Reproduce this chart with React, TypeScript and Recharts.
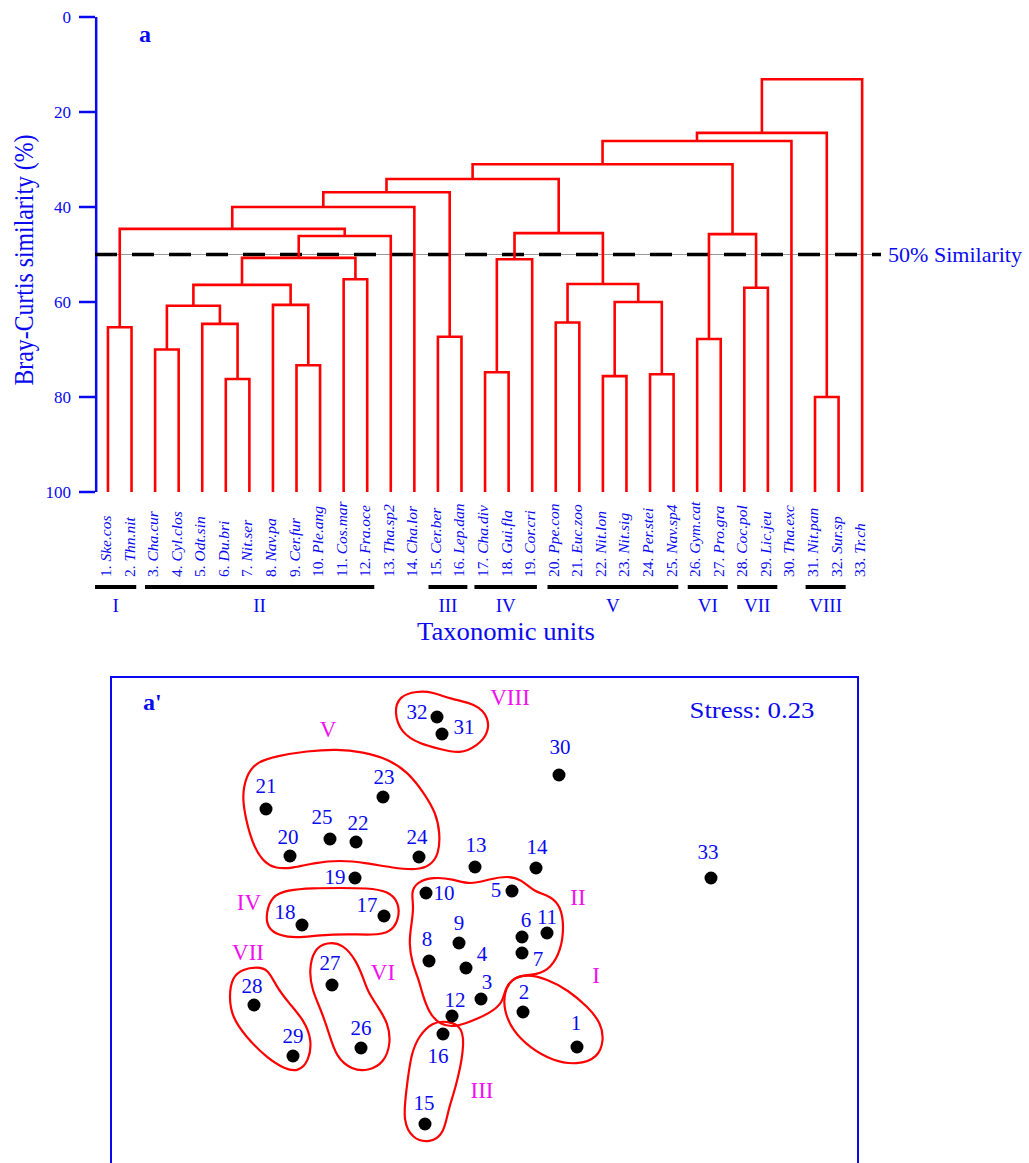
import React from 'react';
import { ScatterChart, Scatter, XAxis, YAxis, ReferenceLine } from 'recharts';

const BLUE = '#0a0af0';
const RED = '#ff0000';
const MAGENTA = '#f010f0';
const SERIF = '"Liberation Serif", "Times New Roman", Times, serif';

// ---- (a) dendrogram ----
const LEAF_NAMES = [
  'Ske.cos', 'Thn.nit', 'Cha.cur', 'Cyl.clos', 'Odt.sin', 'Du.bri', 'Nit.ser', 'Nav.pa',
  'Cer.fur', 'Ple.ang', 'Cos.mar', 'Fra.oce', 'Tha.sp2', 'Cha.lor', 'Cer.ber', 'Lep.dan',
  'Cha.div', 'Gui.fla', 'Cor.cri', 'Ppe.con', 'Euc.zoo', 'Nit.lon', 'Nit.sig', 'Per.stei',
  'Nav.sp4', 'Gym.cat', 'Pro.gra', 'Coc.pol', 'Lic.jeu', 'Tha.exc', 'Nit.pan', 'Sur.sp', 'Tr.ch',
];

// merges: [left, right, similarity %]; positive = leaf number, negative = earlier merge (-k = merge k)
const MERGES: [number, number, number][] = [
  [1, 2, 65.3],      // 1
  [3, 4, 70],        // 2
  [6, 7, 76.2],      // 3
  [5, -3, 64.6],     // 4
  [-2, -4, 60.8],    // 5
  [9, 10, 73.3],     // 6
  [8, -6, 60.6],     // 7
  [-5, -7, 56.4],    // 8
  [11, 12, 55.2],    // 9
  [-8, -9, 50.7],    // 10
  [-10, 13, 46.1],   // 11
  [-1, -11, 44.6],   // 12
  [-12, 14, 40],     // 13
  [15, 16, 67.3],    // 14
  [-13, -14, 36.9],  // 15
  [17, 18, 74.8],    // 16
  [-16, 19, 51],     // 17
  [20, 21, 64.3],    // 18
  [22, 23, 75.6],    // 19
  [24, 25, 75.2],    // 20
  [-19, -20, 60],    // 21
  [-18, -21, 56.2],  // 22
  [-17, -22, 45.5],  // 23
  [-15, -23, 34.1],  // 24
  [26, 27, 67.8],    // 25
  [28, 29, 57],      // 26
  [-25, -26, 45.7],  // 27
  [-24, -27, 31],    // 28
  [-28, 30, 26.1],   // 29
  [31, 32, 80],      // 30
  [-29, -30, 24.4],  // 31
  [-31, 33, 13.1],   // 32
];

const CUT_LEVEL = 50;
const Y_TICKS = [0, 20, 40, 60, 80, 100];

const GROUP_NAMES = ['I', 'II', 'III', 'IV', 'V', 'VI', 'VII', 'VIII'];
const GROUP_START = [0.45, 2.57, 14.6, 16.55, 19.65, 25.6, 27.7, 30.6];
const GROUP_END = [2.2, 12.3, 16.25, 19.2, 25.2, 27.3, 29.4, 32.3];

// ---- (a') NMDS ordination ----
const POINT_X = [0.93, 0.39, -0.03, -0.18, 0.28, 0.38, 0.38, -0.55, -0.25, -0.58, 0.63, -0.32, -0.09, 0.52, -0.59, -0.41,
  -1.0, -1.82, -1.29, -1.94, -2.18, -1.28, -1.01, -0.65, -1.54, -1.23, -1.52, -2.3, -1.91, 0.75, -0.42, -0.47, 2.27];
const POINT_Y = [-1.77, -1.42, -1.29, -0.98, -0.21, -0.67, -0.83, -0.91, -0.73, -0.23, -0.63, -1.46, 0.03, 0.02, -2.54, -1.64,
  -0.46, -0.55, -0.08, 0.14, 0.61, 0.28, 0.73, 0.13, 0.31, -1.78, -1.15, -1.35, -1.86, 0.95, 1.36, 1.53, -0.08];

const HULLS: { name: string; pts: [number, number][] }[] = [
  { name: 'VIII', pts: [[-0.9, 1.58], [-0.85, 1.74], [-0.67, 1.79], [-0.51, 1.78], [-0.34, 1.71], [-0.07, 1.66], [0.05, 1.52], [0.04, 1.36], [-0.07, 1.24], [-0.24, 1.16], [-0.44, 1.21], [-0.64, 1.26], [-0.83, 1.37]] },
  { name: 'V', pts: [[-2.38, 0.94], [-2.28, 1.08], [-2.07, 1.14], [-1.77, 1.19], [-1.47, 1.21], [-1.21, 1.18], [-0.96, 1.11], [-0.76, 0.98], [-0.6, 0.77], [-0.48, 0.57], [-0.44, 0.37], [-0.45, 0.16], [-0.54, 0.04], [-0.67, 0.0], [-0.91, 0.02], [-1.17, 0.07], [-1.44, 0.1], [-1.71, 0.07], [-1.91, 0.02], [-2.08, 0.01], [-2.22, 0.09], [-2.32, 0.28], [-2.38, 0.5], [-2.42, 0.73]] },
  { name: 'IV', pts: [[-2.18, -0.43], [-2.12, -0.26], [-1.97, -0.2], [-1.71, -0.18], [-1.44, -0.18], [-1.17, -0.18], [-0.96, -0.21], [-0.85, -0.32], [-0.85, -0.5], [-0.94, -0.63], [-1.11, -0.65], [-1.37, -0.64], [-1.64, -0.65], [-1.87, -0.68], [-2.04, -0.66], [-2.17, -0.58]] },
  { name: 'VII', pts: [[-2.55, -1.27], [-2.52, -1.07], [-2.41, -0.99], [-2.27, -0.97], [-2.16, -0.99], [-2.08, -1.16], [-1.96, -1.32], [-1.8, -1.5], [-1.72, -1.7], [-1.75, -1.91], [-1.86, -2.02], [-1.99, -1.99], [-2.17, -1.88], [-2.38, -1.67], [-2.52, -1.47]] },
  { name: 'VI', pts: [[-1.75, -1.0], [-1.7, -0.79], [-1.57, -0.72], [-1.41, -0.74], [-1.28, -0.9], [-1.2, -1.1], [-1.16, -1.22], [-1.06, -1.37], [-0.96, -1.53], [-0.93, -1.73], [-1.0, -1.93], [-1.16, -2.01], [-1.32, -2.0], [-1.48, -1.87], [-1.55, -1.63], [-1.63, -1.4], [-1.72, -1.2]] },
  { name: 'III', pts: [[-0.78, -2.23], [-0.73, -1.83], [-0.65, -1.66], [-0.52, -1.52], [-0.36, -1.51], [-0.21, -1.57], [-0.2, -1.8], [-0.28, -2.17], [-0.36, -2.4], [-0.4, -2.64], [-0.54, -2.73], [-0.72, -2.69], [-0.81, -2.5]] },
  { name: 'II', pts: [[-0.7, -0.37], [-0.73, -0.22], [-0.67, -0.12], [-0.51, -0.07], [-0.31, -0.09], [-0.14, -0.15], [0.06, -0.09], [0.23, -0.06], [0.37, -0.09], [0.5, -0.22], [0.67, -0.26], [0.77, -0.37], [0.8, -0.57], [0.77, -0.8], [0.67, -0.98], [0.53, -1.05], [0.33, -1.05], [0.21, -1.17], [0.19, -1.33], [0.06, -1.43], [-0.14, -1.52], [-0.29, -1.57], [-0.44, -1.55], [-0.55, -1.43], [-0.62, -1.23], [-0.65, -1.1], [-0.72, -0.93], [-0.75, -0.73], [-0.73, -0.57]] },
  { name: 'I', pts: [[0.2, -1.23], [0.27, -1.09], [0.43, -1.04], [0.63, -1.09], [0.84, -1.2], [1.04, -1.37], [1.17, -1.53], [1.2, -1.7], [1.14, -1.88], [0.93, -1.95], [0.69, -1.91], [0.46, -1.78], [0.28, -1.6], [0.2, -1.4]] },
];

const GROUP_LABEL_X = [1.12, 0.94, -0.02, -2.35, -1.56, -1.01, -2.36, 0.26];
const GROUP_LABEL_Y = [-1.05, -0.27, -2.2, -0.32, 1.41, -1.02, -0.82, 1.73];

// label offsets (px) of point numbers relative to their dot
const LABEL_OFFSET: [number, number][] = [
  [-1, -24], [1, -20], [6, -17], [16, -14], [-16, -1], [4, -17], [16, 6], [-2, -22], [0, -20], [18, 0],
  [0, -16], [3, -16], [1, -22], [1, -21], [-1, -21], [-5, 22], [-17, -11], [-17, -13], [-20, -1], [-2, -19],
  [0, -23], [2, -19], [1, -20], [-2, -20], [-8, -22], [0, -20], [-2, -22], [-2, -19], [0, -20], [1, -28],
  [22, -7], [-20, -5], [-3, -26],
];

// build dendrogram link paths
type Node = { x: number; h: number };
const built: Node[] = [];
const getNode = (ref: number): Node => (ref > 0 ? { x: ref, h: 100 } : built[-ref - 1]);
const LINKS = MERGES.map(([a, b, h]) => {
  const l = getNode(a);
  const r = getNode(b);
  built.push({ x: (l.x + r.x) / 2, h });
  return [
    { x: l.x, y: l.h },
    { x: l.x, y: h },
    { x: r.x, y: h },
    { x: r.x, y: r.h },
  ];
});

const leafData = LEAF_NAMES.map((name, i) => ({ x: i + 1, y: 100, name }));
const pointData = POINT_X.map((x, i) => ({ x, y: POINT_Y[i], id: i + 1 }));
const groupLabelData = GROUP_NAMES.map((name, i) => ({ x: GROUP_LABEL_X[i], y: GROUP_LABEL_Y[i], name }));

const BAR_Y = 120;
const ROMAN_Y = 123.8;

const noShape = () => <g />;

export default function App() {
  return (
    <div style={{ position: 'relative', width: 1029, height: 1163, overflow: 'hidden', background: '#fff' }}>
      <style>{'html,body{margin:0;padding:0;overflow:hidden;background:#fff}'}</style>

      {/* (a) dendrogram */}
      <div style={{ position: 'absolute', left: 0, top: 0 }}>
        <ScatterChart width={1029} height={640} margin={{ top: 17, right: 148, bottom: 5.5, left: 0 }}>
          <XAxis type="number" dataKey="x" domain={[0.5, 33.8]} hide />
          <YAxis
            type="number"
            dataKey="y"
            domain={[0, 130]}
            reversed
            width={95}
            ticks={Y_TICKS}
            interval={0}
            axisLine={false}
            tickLine={{ stroke: BLUE, strokeWidth: 2.5 }}
            tickSize={16}
            tickMargin={8}
            tick={{ fill: BLUE, fontSize: 17, fontFamily: SERIF }}
          />
          <ReferenceLine segment={[{ x: 0.5, y: 0 }, { x: 0.5, y: 100 }]} stroke={BLUE} strokeWidth={2.5} />
          {LINKS.map((pts, i) => (
            <Scatter
              key={'link' + i}
              data={pts}
              line={{ stroke: RED, strokeWidth: 2.6 }}
              lineType="joint"
              shape={noShape}
              isAnimationActive={false}
            />
          ))}
          <ReferenceLine y={CUT_LEVEL} stroke="#9a9a9a" strokeWidth={1} />
          <ReferenceLine y={CUT_LEVEL} stroke="#000" strokeWidth={3.5} strokeDasharray="22 15" />
          <Scatter
            data={leafData}
            isAnimationActive={false}
            shape={(p: any) => {
              const x = p.cx + 3;
              const y = p.cy + 85;
              return (
                <text x={x} y={y} transform={`rotate(-90 ${x} ${y})`} fill={BLUE} fontSize={15.5} fontFamily={SERIF}>
                  <tspan>{p.payload.x + '. '}</tspan>
                  <tspan fontStyle="italic">{p.payload.name}</tspan>
                </text>
              );
            }}
          />
          {GROUP_NAMES.map((g, i) => (
            <Scatter
              key={'bar' + g}
              data={[{ x: GROUP_START[i], y: BAR_Y }, { x: GROUP_END[i], y: BAR_Y }]}
              line={{ stroke: '#000', strokeWidth: 4 }}
              lineType="joint"
              shape={noShape}
              isAnimationActive={false}
            />
          ))}
          <Scatter
            data={GROUP_NAMES.map((name, i) => ({ x: (GROUP_START[i] + GROUP_END[i]) / 2, y: ROMAN_Y, name }))}
            isAnimationActive={false}
            shape={(p: any) => (
              <text x={p.cx} y={p.cy} textAnchor="middle" dominantBaseline="central" fill={BLUE} fontSize={19} fontFamily={SERIF}>
                {p.payload.name}
              </text>
            )}
          />
        </ScatterChart>
      </div>

      {/* (a') NMDS */}
      <div style={{ position: 'absolute', left: 110, top: 676, border: `2px solid ${BLUE}`, width: 745, height: 495 }}>
        <ScatterChart width={745} height={495} margin={{ top: 0, right: 0, bottom: 0, left: 0 }}>
          <XAxis type="number" dataKey="x" domain={[-3.72, 3.73]} hide />
          <YAxis type="number" dataKey="y" domain={[-3.03, 1.92]} hide />
          {HULLS.map((h) => (
            <Scatter
              key={'hull' + h.name}
              data={h.pts.map(([x, y]) => ({ x, y }))}
              line={{ stroke: RED, strokeWidth: 2.2 }}
              lineType="joint"
              lineJointType="basisClosed"
              shape={noShape}
              isAnimationActive={false}
            />
          ))}
          <Scatter
            data={pointData}
            isAnimationActive={false}
            shape={(p: any) => {
              const [dx, dy] = LABEL_OFFSET[p.payload.id - 1];
              return (
                <g>
                  <circle cx={p.cx} cy={p.cy} r={6.5} fill="#000" />
                  <text x={p.cx + dx} y={p.cy + dy} textAnchor="middle" dominantBaseline="central" fill={BLUE} fontSize={21} fontFamily={SERIF}>
                    {p.payload.id}
                  </text>
                </g>
              );
            }}
          />
          <Scatter
            data={groupLabelData}
            isAnimationActive={false}
            shape={(p: any) => (
              <text x={p.cx} y={p.cy} textAnchor="middle" dominantBaseline="central" fill={MAGENTA} fontSize={23} fontFamily={SERIF}>
                {p.payload.name}
              </text>
            )}
          />
        </ScatterChart>
      </div>

      {/* titles and annotations */}
      <svg width={1029} height={1163} style={{ position: 'absolute', left: 0, top: 0, pointerEvents: 'none' }}>
        <text x={139} y={42} fill={BLUE} fontSize={24} fontWeight="bold" fontFamily={SERIF}>a</text>
        <text
          x={33}
          y={260}
          transform="rotate(-90 33 260)"
          textAnchor="middle"
          fill={BLUE}
          fontSize={27}
          fontFamily={SERIF}
          textLength={251}
          lengthAdjust="spacingAndGlyphs"
        >
          Bray-Curtis similarity (%)
        </text>
        <text x={888} y={262} fill={BLUE} fontSize={21} fontFamily={SERIF} textLength={134} lengthAdjust="spacingAndGlyphs">
          50% Similarity
        </text>
        <text x={506} y={640} textAnchor="middle" fill={BLUE} fontSize={26} fontFamily={SERIF} textLength={178} lengthAdjust="spacingAndGlyphs">
          Taxonomic units
        </text>
        <text x={143} y={710} fill={BLUE} fontSize={24} fontWeight="bold" fontFamily={SERIF}>a'</text>
        <text x={752} y={718} textAnchor="middle" fill={BLUE} fontSize={24} fontFamily={SERIF} textLength={125} lengthAdjust="spacingAndGlyphs">
          Stress: 0.23
        </text>
      </svg>
    </div>
  );
}
